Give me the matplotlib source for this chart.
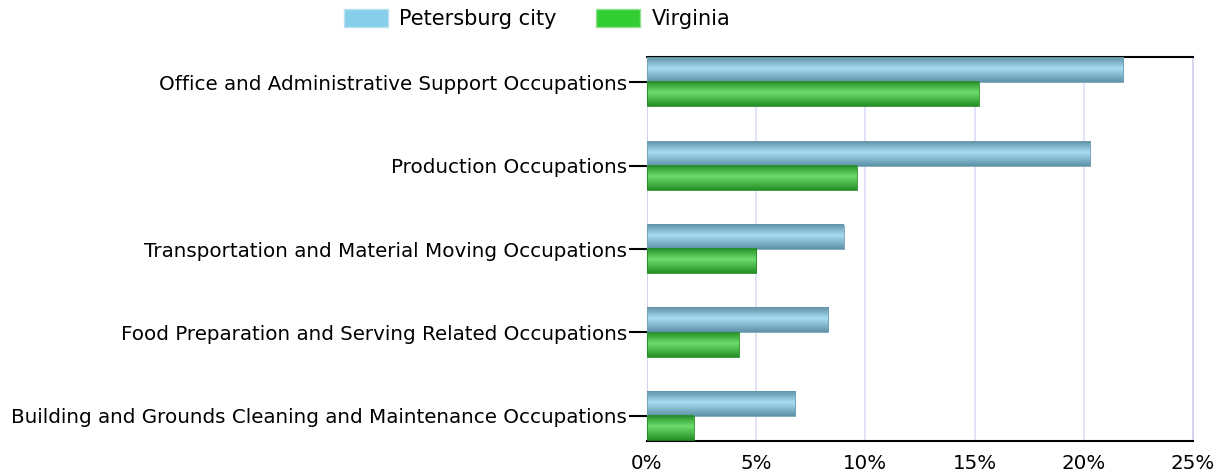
import matplotlib
matplotlib.use("Agg")
import matplotlib.pyplot as plt
import numpy as np
from matplotlib.colors import LinearSegmentedColormap
from matplotlib.patches import Patch

categories = [
    "Office and Administrative Support Occupations",
    "Production Occupations",
    "Transportation and Material Moving Occupations",
    "Food Preparation and Serving Related Occupations",
    "Building and Grounds Cleaning and Maintenance Occupations",
]
petersburg = [21.8, 20.3, 9.0, 8.3, 6.8]
virginia = [15.2, 9.6, 5.0, 4.2, 2.15]
series_names = ["Petersburg city", "Virginia"]
ticks = [0, 5, 10, 15, 20, 25]

plt.rcParams["font.family"] = ["DejaVu Sans"]
fig = plt.figure(figsize=(12.29, 4.74), dpi=100)
ax = fig.add_axes([0.5264, 0.0696, 0.4443, 0.8101])

y = np.arange(len(categories))
h = 0.29
# gradient runs top -> bottom of each bar (axis is inverted)
blue_cmap = LinearSegmentedColormap.from_list(
    "b", [(0, "#5f92a8"), (0.45, "#a8dcf0"), (1, "#5f92a8")])
green_cmap = LinearSegmentedColormap.from_list(
    "g", [(0, "#259025"), (0.45, "#6ddc6d"), (1, "#259025")])

def grad_bars(bars, cmap):
    grad = np.linspace(0, 1, 64).reshape(-1, 1)
    for b in bars:
        x0, y0, w, hh = b.get_x(), b.get_y(), b.get_width(), b.get_height()
        ax.imshow(grad, cmap=cmap, aspect="auto", extent=(x0, x0 + w, y0 + hh, y0),
                  origin="upper", zorder=3, interpolation="bilinear")
        b.set_facecolor("none")

b1 = ax.barh(y - h / 2, petersburg, height=h, color="#87CEEB", zorder=4, edgecolor="#6f9fb3", linewidth=0.6)
b2 = ax.barh(y + h / 2, virginia, height=h, color="#32CD32", zorder=4, edgecolor="#238a23", linewidth=0.6)
grad_bars(b1, blue_cmap)
grad_bars(b2, green_cmap)

ax.set_xlim(0, 25)
ax.set_ylim(4.3, -0.3)
ax.set_xticks(ticks)
ax.set_xticklabels([f"{t}%" for t in ticks], fontsize=14.3)
ax.set_yticks(y)
ax.set_yticklabels(categories, fontsize=14.3)
ax.tick_params(axis="x", length=0, pad=9)
ax.tick_params(axis="y", length=13, width=1.5, color="black", pad=1.5)
ax.grid(axis="x", color="#e0dcf5", linewidth=1.2, zorder=0)
ax.set_axisbelow(True)
for s in ["top", "bottom"]:
    ax.spines[s].set_color("black")
    ax.spines[s].set_linewidth(1.5)
ax.spines["left"].set_color("#d8d4ee")
ax.spines["right"].set_color("#d8d4ee")
ax.spines["right"].set_linewidth(1.5)

handles = [Patch(facecolor="#87CEEB", edgecolor="#b8e2f2"), Patch(facecolor="#32CD32", edgecolor="#8fe08f")]
fig.legend(handles, series_names, loc="center", bbox_to_anchor=(0.437, 0.96), ncol=2,
           frameon=False, fontsize=15, handlelength=2.1, handleheight=1.0,
           handletextpad=0.55, columnspacing=1.9)

fig.savefig("out.png", dpi=100)
